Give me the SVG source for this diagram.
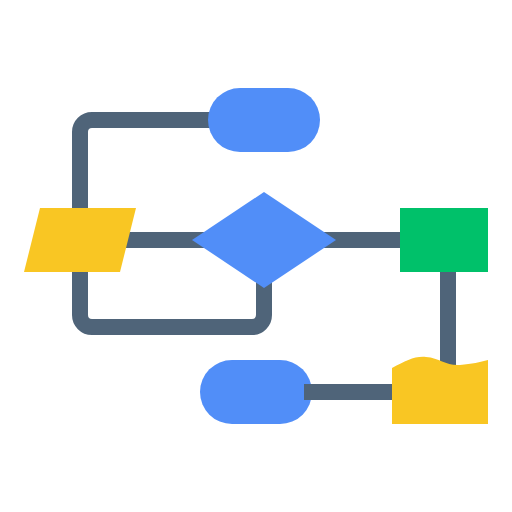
<svg xmlns="http://www.w3.org/2000/svg" width="512" height="512" viewBox="0 0 512 512">
<style>
.c{fill:none;stroke:#4f6479;stroke-width:16}
.blue{fill:#518ef8}
.yellow{fill:#f9c623}
.green{fill:#00c16a}
</style>
<g id="end"><rect class="blue" x="200" y="360" width="112" height="64" rx="32"/></g>
<g id="connectors">
<path class="c" d="M224,120 H92 A12,12 0 0 0 80,132 V315 A12,12 0 0 0 92,327 H252 A12,12 0 0 0 264,315 V270"/>
<path class="c" d="M110,240 H410"/>
<path class="c" d="M448,264 V370"/>
<path class="c" d="M304,392 H400"/>
</g>
<g id="start"><rect class="blue" x="208" y="88" width="112" height="64" rx="32"/></g>
<g id="input"><polygon class="yellow" points="40,208 136,208 120,272 24,272"/></g>
<g id="decision"><polygon class="blue" points="192,240 264,192 336,240 264,288"/></g>
<g id="process"><rect class="green" x="400" y="208" width="88" height="64"/></g>
<g id="document"><path class="yellow" d="M392,368 C406,361 414,356 426,357 C440,358 446,366 460,365 C472,364 480,362 488,360 V424 H392 Z"/></g>
</svg>
